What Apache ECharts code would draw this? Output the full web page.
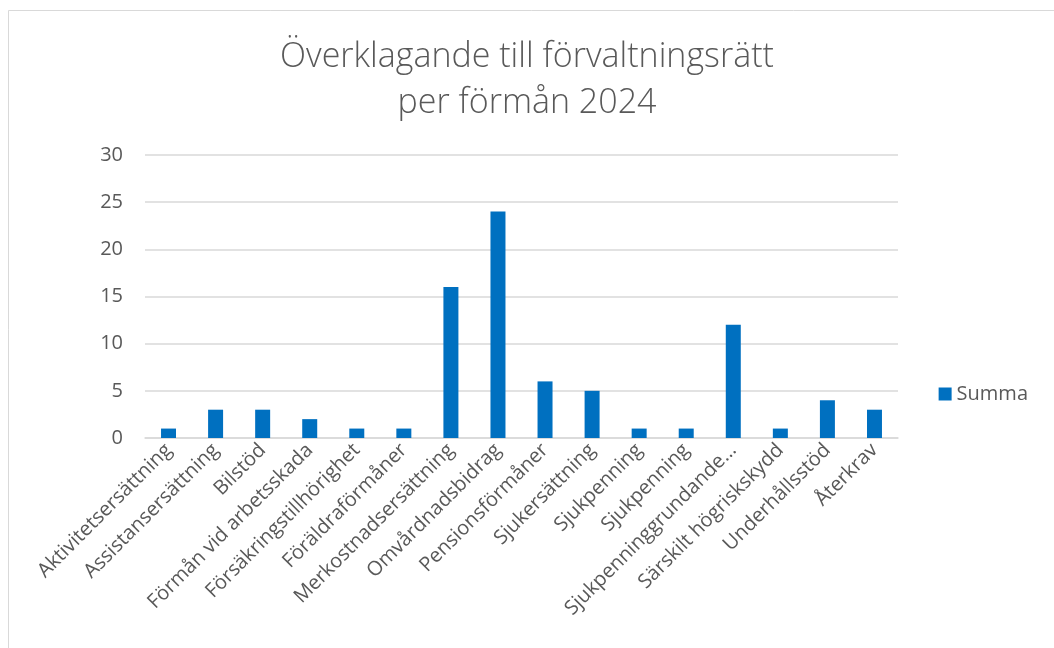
<!DOCTYPE html>
<html><head><meta charset="utf-8">
<script src="https://cdn.jsdelivr.net/npm/echarts@6/dist/echarts.min.js"></script>
<style>html,body{margin:0;padding:0;background:#fff}#c{width:1054px;height:648px}</style>
</head><body><div id="c"></div>
<script>
const categories = ["Aktivitetsersättning","Assistansersättning","Bilstöd","Förmån vid arbetsskada","Försäkringstillhörighet","Föräldraförmåner","Merkostnadsersättning","Omvårdnadsbidrag","Pensionsförmåner","Sjukersättning","Sjukpenning","Sjukpenning","Sjukpenninggrundande…","Särskilt högriskskydd","Underhållsstöd","Återkrav"];
const summa = [1,3,3,2,1,1,16,24,6,5,1,1,12,1,4,3];
const yTicks = [0,5,10,15,20,25,30];

const chart = echarts.init(document.getElementById('c'));
chart.setOption({
  animation:false,
  backgroundColor:'#fff',
  graphic:[{type:'rect',shape:{x:8.5,y:10.5,width:1060,height:660},style:{fill:'none',stroke:'#d9d9d9',lineWidth:1}}],
  title:{text:'Överklagande till förvaltningsrätt\nper förmån 2024',left:'center',top:29,
    textStyle:{fontFamily:'Open Sans',fontWeight:300,fontSize:34,color:'#595959',lineHeight:46}},
  legend:{right:21,top:379,itemWidth:13,itemHeight:13,itemGap:5,icon:'rect',
    textStyle:{fontFamily:'Open Sans',fontSize:20,color:'#595959'},data:['Summa']},
  grid:{left:145,right:156,top:155,bottom:210,containLabel:false},
  xAxis:{type:'category',data:categories,
    axisLine:{lineStyle:{color:'#d9d9d9',width:1.5}},axisTick:{show:false},
    axisLabel:{rotate:45,interval:0,fontFamily:'Open Sans',fontSize:20,color:'#595959',margin:9}},
  yAxis:{type:'value',min:yTicks[0],max:yTicks[yTicks.length-1],interval:5,
    axisLine:{show:false},axisTick:{show:false},
    axisLabel:{fontFamily:'Open Sans',fontSize:20,color:'#595959',margin:22},
    splitLine:{lineStyle:{color:'#d9d9d9',width:1.5}}},
  series:[{name:'Summa',type:'bar',data:summa,barWidth:15,itemStyle:{color:'#0070C0'}}]
});
</script></body></html>
